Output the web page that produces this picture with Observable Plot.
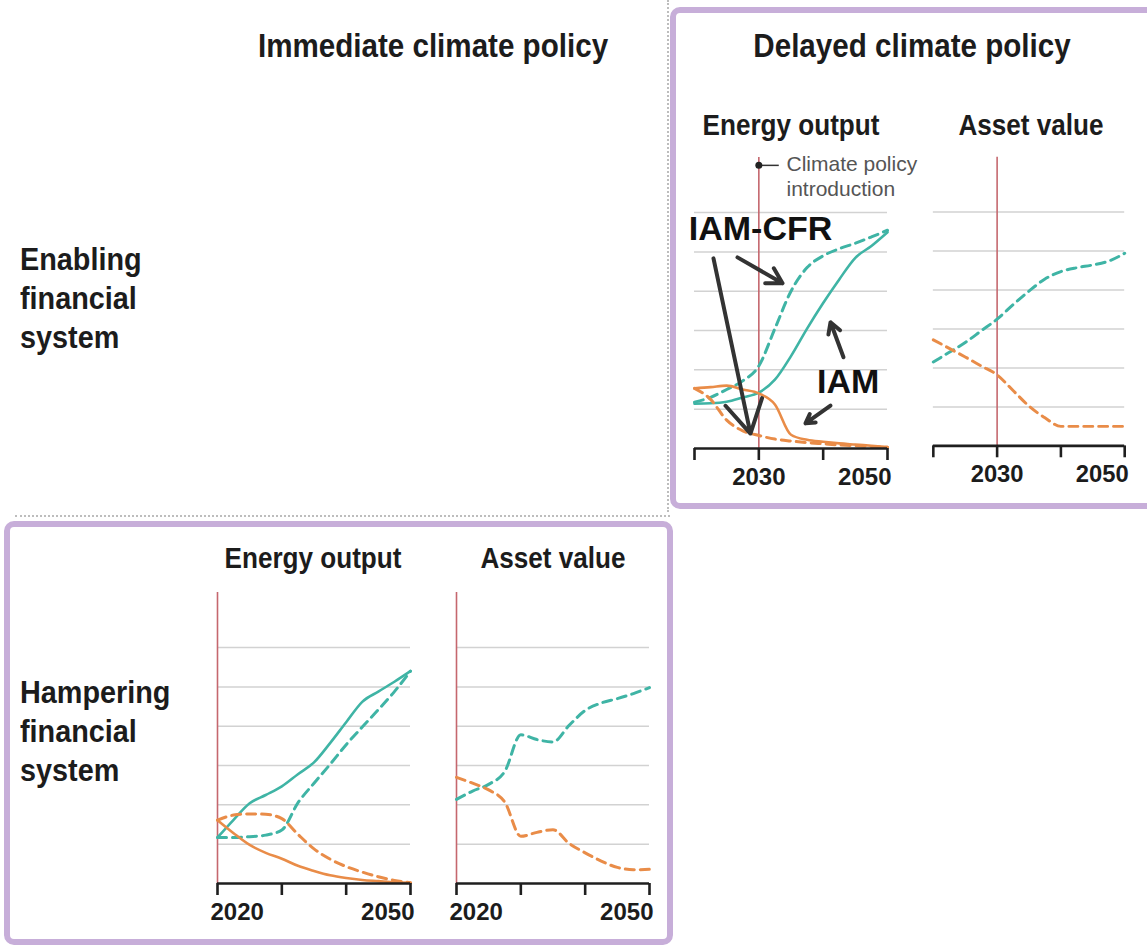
<!DOCTYPE html>
<html><head><meta charset="utf-8">
<script src="https://cdn.jsdelivr.net/npm/d3@7"></script>
<script src="https://cdn.jsdelivr.net/npm/@observablehq/plot@0.6"></script>
<style>
html,body{margin:0;padding:0;background:#fff;}
body{width:1147px;height:947px;overflow:hidden;position:relative;font-family:"Liberation Sans",Arial,sans-serif;color:#1c1c1c;}
.box{position:absolute;border:6px solid #c7aed9;border-radius:10px;box-sizing:border-box;}
.t{position:absolute;white-space:nowrap;font-weight:bold;}
.main{font-size:34px;transform:translate(-50%,-50%) scaleX(0.87);}
.sub{font-size:29px;transform:translate(-50%,-50%) scaleX(0.9);}
.row{position:absolute;font-weight:bold;font-size:32px;line-height:39px;transform:scaleX(0.9);transform-origin:left top;}
.panel{position:absolute;}
.hdot{position:absolute;border-top:2px dotted #bdbdbd;}
.vdot{position:absolute;border-left:2px dotted #bdbdbd;}
</style>
</head><body>
<div class="vdot" style="left:667px;top:0;height:512px"></div>
<div class="hdot" style="left:15px;top:515px;width:655px"></div>
<div class="box" style="left:670px;top:7px;width:490px;height:502px"></div>
<div class="box" style="left:4px;top:521px;width:669px;height:424px"></div>

<div class="t main" style="left:433px;top:45px">Immediate climate policy</div>
<div class="t main" style="left:912px;top:45px">Delayed climate policy</div>
<div class="row" style="left:20px;top:240px">Enabling<br>financial<br>system</div>
<div class="row" style="left:20px;top:673px">Hampering<br>financial<br>system</div>
<div class="t sub" style="left:791px;top:125px">Energy output</div>
<div class="t sub" style="left:1031px;top:125px">Asset value</div>
<div class="t sub" style="left:313px;top:558px">Energy output</div>
<div class="t sub" style="left:553px;top:558px">Asset value</div>

<div id="p1" class="panel" style="left:674px;top:140px"></div>
<div id="p2" class="panel" style="left:913px;top:140px"></div>
<div id="p3" class="panel" style="left:197px;top:575px"></div>
<div id="p4" class="panel" style="left:436px;top:575px"></div>

<script>
// ---- data ----
const years = [2020, 2022.5, 2025, 2027.5, 2030, 2032.5, 2035, 2037.5, 2040, 2042.5, 2045, 2047.5, 2050];
const xTicks = [2020, 2030, 2040, 2050];
const gridValues = [1, 2, 3, 4, 5, 6];

// Delayed climate policy, enabling financial system
const delayedEnergyGreenIAM = [1.14, 1.15, 1.19, 1.30, 1.42, 1.75, 2.35, 3.05, 3.70, 4.30, 4.85, 5.15, 5.50];
const delayedEnergyGreenCFR = [1.18, 1.30, 1.50, 1.72, 2.10, 3.05, 4.00, 4.60, 4.90, 5.08, 5.22, 5.38, 5.55];
const delayedEnergyBrownIAM = [1.53, 1.56, 1.60, 1.50, 1.40, 1.12, 0.35, 0.22, 0.17, 0.13, 0.10, 0.07, 0.04];
const delayedEnergyBrownCFR = [1.53, 1.25, 0.72, 0.45, 0.33, 0.24, 0.19, 0.15, 0.12, 0.09, 0.07, 0.05, 0.03];
const delayedAssetGreenCFR  = [2.15, 2.40, 2.65, 2.95, 3.25, 3.62, 3.97, 4.28, 4.47, 4.57, 4.64, 4.74, 4.94];
const delayedAssetBrownCFR  = [2.72, 2.50, 2.28, 2.05, 1.82, 1.42, 1.02, 0.72, 0.50, 0.50, 0.50, 0.50, 0.50];

// Immediate climate policy, hampering financial system
const hamperEnergyGreenIAM = [1.17, 1.62, 2.04, 2.25, 2.47, 2.78, 3.08, 3.57, 4.10, 4.62, 4.88, 5.13, 5.40];
const hamperEnergyGreenCFR = [1.17, 1.17, 1.19, 1.23, 1.36, 2.05, 2.55, 3.03, 3.53, 3.98, 4.42, 4.88, 5.40];
const hamperEnergyBrownIAM = [1.61, 1.28, 0.98, 0.78, 0.63, 0.45, 0.32, 0.21, 0.14, 0.09, 0.06, 0.03, 0.02];
const hamperEnergyBrownCFR = [1.61, 1.74, 1.77, 1.76, 1.65, 1.25, 0.88, 0.62, 0.43, 0.29, 0.17, 0.08, 0.02];
const hamperAssetGreenCFR  = [2.14, 2.35, 2.52, 2.85, 3.78, 3.66, 3.60, 4.02, 4.40, 4.59, 4.70, 4.83, 4.98];
const hamperAssetBrownCFR  = [2.70, 2.55, 2.38, 2.07, 1.20, 1.30, 1.37, 1.02, 0.78, 0.57, 0.41, 0.35, 0.36];

// annotations (data coordinates)
const policyLabel = ["Climate policy\nintroduction"];
const seriesLabels = [
  {text: "IAM-CFR", year: 2030.26, value: 5.585},
  {text: "IAM", year: 2043.9, value: 1.70}
];
const pointerArrows = [
  {x1: 2022.95, y1: 4.835, x2: 2028.7, y2: 0.38},
  {x1: 2026.68, y1: 4.86, x2: 2033.68, y2: 4.20},
  {x1: 2043.16, y1: 2.32, x2: 2041.14, y2: 3.21},
  {x1: 2041.14, y1: 1.09, x2: 2037.25, y2: 0.64}
];

// ---- drawing ----
const TEAL = "#3fb4a5", ORANGE = "#e98c48", RED = "#c5676e";
const yTop = 7.4;
const FONT = '"Liberation Sans",Arial,sans-serif';

function toRows(vals) { return years.map((y, i) => ({year: y, value: vals[i]})); }

function panel(series, policyYear, tickLabels, extras = []) {
  const marks = [
    Plot.ruleY(gridValues, {stroke: "#d2d2d2", strokeWidth: 1.5}),
    Plot.ruleX([policyYear], {y1: 0, y2: yTop, stroke: RED, strokeWidth: 1.6}),
    ...series.map(s => Plot.line(toRows(s.values), {
      x: "year", y: "value", stroke: s.color, strokeWidth: s.dashed ? 3 : 2.6,
      strokeDasharray: s.dashed ? "9,6" : null, curve: "monotone-x"
    })),
    Plot.ruleY([0], {stroke: "#1f1f1f", strokeWidth: 2.6}),
    Plot.axisX({ticks: xTicks, tickSize: 12, tickFormat: () => "", label: null, stroke: "#1f1f1f", strokeWidth: 2.6}),
    ...tickLabels.map(d => Plot.text([d], {
      x: d => d, y: 0, dy: 29, text: d => String(d),
      textAnchor: d === 2020 ? "start" : d === 2050 ? "end" : "middle",
      dx: d === 2020 ? -7 : d === 2050 ? 4 : 0,
      fontSize: 24, fontWeight: "bold", fill: "#1c1c1c", fontFamily: FONT
    })),
    ...extras
  ];
  return Plot.plot({
    width: 236, height: 355,
    marginLeft: 20, marginRight: 23, marginTop: 17, marginBottom: 47,
    x: {domain: [2020, 2050], axis: null, label: null},
    y: {domain: [0, yTop], axis: null},
    style: {overflow: "visible", background: "transparent", fontFamily: FONT},
    marks
  });
}

const annot = [
  Plot.link([0], {x1: () => 2030, y1: () => 7.2, x2: () => 2033.1, y2: () => 7.2, stroke: "#333", strokeWidth: 1.5}),
  Plot.dot([0], {x: () => 2030, y: () => 7.2, r: 3.5, fill: "#222"}),
  Plot.text(policyLabel, {x: () => 2034.3, y: () => 7.2, text: d => d, textAnchor: "start", lineAnchor: "top", dy: -12,
    fontSize: 21, lineHeight: 1.2, fill: "#555", fontFamily: FONT}),
  Plot.arrow(pointerArrows, {x1: "x1", y1: "y1", x2: "x2", y2: "y2", stroke: "#333", strokeWidth: 4, headLength: 14}),
  Plot.text(seriesLabels, {x: "year", y: "value", text: "text", fontSize: 34, fontWeight: "bold", fill: "#111",
    fontFamily: FONT})
];

document.getElementById("p1").append(panel([
  {values: delayedEnergyGreenIAM, color: TEAL, dashed: false},
  {values: delayedEnergyGreenCFR, color: TEAL, dashed: true},
  {values: delayedEnergyBrownIAM, color: ORANGE, dashed: false},
  {values: delayedEnergyBrownCFR, color: ORANGE, dashed: true}
], 2030, [2030, 2050], annot));

document.getElementById("p2").append(panel([
  {values: delayedAssetGreenCFR, color: TEAL, dashed: true},
  {values: delayedAssetBrownCFR, color: ORANGE, dashed: true}
], 2030, [2030, 2050]));

document.getElementById("p3").append(panel([
  {values: hamperEnergyGreenIAM, color: TEAL, dashed: false},
  {values: hamperEnergyGreenCFR, color: TEAL, dashed: true},
  {values: hamperEnergyBrownIAM, color: ORANGE, dashed: false},
  {values: hamperEnergyBrownCFR, color: ORANGE, dashed: true}
], 2020, [2020, 2050]));

document.getElementById("p4").append(panel([
  {values: hamperAssetGreenCFR, color: TEAL, dashed: true},
  {values: hamperAssetBrownCFR, color: ORANGE, dashed: true}
], 2020, [2020, 2050]));
</script>
</body></html>
